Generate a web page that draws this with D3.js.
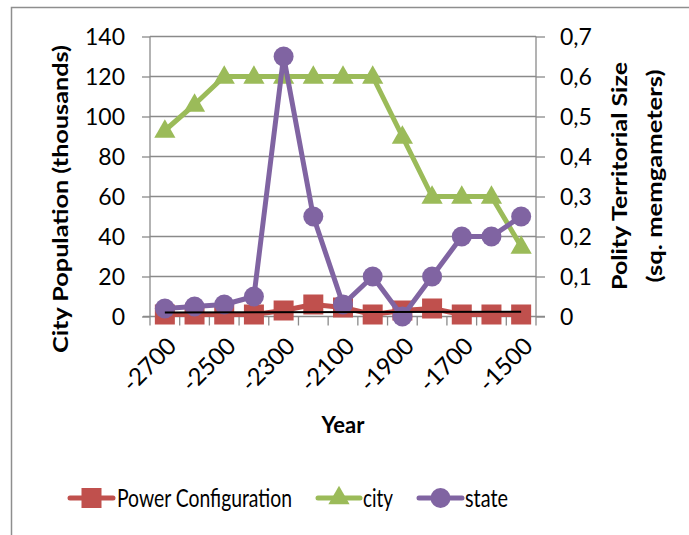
<!DOCTYPE html>
<html><head><meta charset="utf-8">
<script src="https://cdn.jsdelivr.net/npm/d3@7"></script>
<style>html,body{margin:0;padding:0;background:#fff;}svg{display:block;font-family:Lato,"Open Sans",sans-serif;}</style>
</head><body>
<script>
const years = [-2700,-2600,-2500,-2400,-2300,-2200,-2100,-2000,-1900,-1800,-1700,-1600,-1500];
const tickYears = [-2700,-2500,-2300,-2100,-1900,-1700,-1500];
const power = [1,1,1,1,3,6,4.5,1,3,4,1,1,1];
const city = [93,106,120,120,120,120,120,120,90,60,60,60,35];
const state = [0.02,0.025,0.03,0.05,0.65,0.25,0.03,0.1,0,0.1,0.2,0.2,0.25];
const leftTicks = [0,20,40,60,80,100,120,140];
const rightTicks = [0,0.1,0.2,0.3,0.4,0.5,0.6,0.7];
const seriesNames = ["Power Configuration","city","state"];
const colors = {power:"#C0504D", city:"#9BBB59", state:"#8064A2"};

const W=689,H=535;
const L=150,R=536,T=36.5,B=316.5;
const svg=d3.select("body").append("svg").attr("width",W).attr("height",H);
svg.append("rect").attr("x",11.5).attr("y",7.5).attr("width",800).attr("height",700).attr("fill","#fff").attr("stroke","#8e8e8e").attr("stroke-width",1.5);

const x=d3.scaleBand().domain(years).range([L,R]);
const xc=d=>x(d)+x.bandwidth()/2;
const yL=d3.scaleLinear().domain([0,140]).range([B,T]);
const yR=d3.scaleLinear().domain([0,0.7]).range([B,T]);
const grid="#8a8a8a";

// gridlines
svg.append("g").selectAll("line").data(leftTicks.filter(d=>d>0)).join("line")
  .attr("x1",L).attr("x2",R).attr("y1",d=>yL(d)).attr("y2",d=>yL(d)).attr("stroke",grid).attr("stroke-width",1.3);

// left axis
const gl=svg.append("g").attr("transform",`translate(${L},0)`).call(d3.axisLeft(yL).tickValues(leftTicks).tickSize(8).tickPadding(17));
gl.selectAll("path,line").attr("stroke",grid).attr("stroke-width",1.3);
gl.select(".domain").attr("d",`M0,${T}V${B}`);
gl.selectAll("text").attr("font-size",23).attr("fill","#000").attr("font-family","Lato").attr("dy","0.36em");

// right axis
const gr=svg.append("g").attr("transform",`translate(${R},0)`).call(d3.axisRight(yR).tickValues(rightTicks).tickSize(9).tickPadding(15).tickFormat(d=>d===0?"0":d3.format(".1f")(d).replace(".",",")));
gr.selectAll("path,line").attr("stroke",grid).attr("stroke-width",1.3);
gr.select(".domain").attr("d",`M0,${T}V${B}`);
gr.selectAll("text").attr("font-size",23).attr("fill","#000").attr("font-family","Lato").attr("dy","0.36em");

// x axis
const gx=svg.append("g").attr("transform",`translate(0,${B})`);
gx.append("line").attr("x1",L-7).attr("x2",R+9).attr("stroke",grid).attr("stroke-width",1.3);
const bounds=years.map(d=>x(d)).concat([R]);
gx.selectAll("line.t").data(bounds).join("line").attr("class","t").attr("x1",d=>d).attr("x2",d=>d).attr("y1",0).attr("y2",9).attr("stroke",grid).attr("stroke-width",1.3);
gx.selectAll("text").data(tickYears).join("text")
  .attr("transform",d=>`translate(${xc(d)+7},${25}) rotate(-45)`)
  .attr("text-anchor","end").attr("font-size",24).attr("font-family","Lato").attr("dy","0.36em").text(d=>d);

// axis titles
svg.append("text").attr("transform",`translate(68,199) rotate(-90)`).attr("text-anchor","middle").attr("font-weight","bold").attr("font-size",21).attr("textLength",308).attr("lengthAdjust","spacingAndGlyphs").text("City Population (thousands)");
svg.append("text").attr("transform",`translate(627,176) rotate(-90)`).attr("text-anchor","middle").attr("font-weight","bold").attr("font-size",21).attr("textLength",228).attr("lengthAdjust","spacingAndGlyphs").text("Polity Territorial Size");
svg.append("text").attr("transform",`translate(662,176) rotate(-90)`).attr("text-anchor","middle").attr("font-weight","bold").attr("font-size",21).attr("textLength",213).attr("lengthAdjust","spacingAndGlyphs").text("(sq. memgameters)");
svg.append("text").attr("x",343).attr("y",433).attr("text-anchor","middle").attr("font-weight","bold").attr("font-size",22).text("Year");

// series
const lineL=d3.line().x((d,i)=>xc(years[i])).y(d=>yL(d));
const lineR=d3.line().x((d,i)=>xc(years[i])).y(d=>yR(d));
const tri=d3.symbol().type(d3.symbolTriangle).size(195);

// power
svg.append("path").attr("d",lineL(power)).attr("fill","none").attr("stroke",colors.power).attr("stroke-width",5).attr("stroke-linejoin","round");
svg.append("g").selectAll("rect").data(power).join("rect").attr("x",(d,i)=>xc(years[i])-10).attr("y",d=>yL(d)-10).attr("width",20).attr("height",20).attr("fill",colors.power);
// city
svg.append("path").attr("d",lineL(city)).attr("fill","none").attr("stroke",colors.city).attr("stroke-width",5).attr("stroke-linejoin","round");
svg.append("g").selectAll("path").data(city).join("path").attr("d",tri).attr("transform",(d,i)=>`translate(${xc(years[i])},${yL(d)+1})`).attr("fill",colors.city);
// state
svg.append("path").attr("d",lineR(state)).attr("fill","none").attr("stroke",colors.state).attr("stroke-width",5).attr("stroke-linejoin","round");
svg.append("g").selectAll("circle").data(state).join("circle").attr("cx",(d,i)=>xc(years[i])).attr("cy",d=>yR(d)).attr("r",10).attr("fill",colors.state);

// linear trendline of power
const idx=power.map((d,i)=>i+1);
const mx=d3.mean(idx),my=d3.mean(power);
const slope=d3.sum(idx.map((v,i)=>(v-mx)*(power[i]-my)))/d3.sum(idx.map(v=>(v-mx)*(v-mx)));
const icpt=my-slope*mx;
svg.append("line").attr("x1",xc(years[0])).attr("x2",xc(years[years.length-1]))
  .attr("y1",yL(icpt+slope*1)).attr("y2",yL(icpt+slope*years.length)).attr("stroke","#000").attr("stroke-width",2);

// legend
const lg=svg.append("g");
const legY=498;
const items=[{n:seriesNames[0],c:colors.power,m:"sq",x1:70,x2:113,tx:117,tl:175},
             {n:seriesNames[1],c:colors.city,m:"tri",x1:318,x2:360,tx:363,tl:30},
             {n:seriesNames[2],c:colors.state,m:"circ",x1:419,x2:462,tx:465,tl:43}];
items.forEach(it=>{
  lg.append("line").attr("x1",it.x1).attr("x2",it.x2).attr("y1",legY).attr("y2",legY).attr("stroke",it.c).attr("stroke-width",5).attr("stroke-linecap","round");
  const mxp=(it.x1+it.x2)/2;
  if(it.m==="sq") lg.append("rect").attr("x",mxp-10).attr("y",legY-10).attr("width",20).attr("height",20).attr("fill",it.c);
  if(it.m==="tri") lg.append("path").attr("d",tri).attr("transform",`translate(${mxp},${legY})`).attr("fill",it.c);
  if(it.m==="circ") lg.append("circle").attr("cx",mxp).attr("cy",legY).attr("r",10).attr("fill",it.c);
  lg.append("text").attr("x",it.tx).attr("y",legY).attr("dy","0.36em").attr("font-size",25).attr("textLength",it.tl).attr("lengthAdjust","spacingAndGlyphs").text(it.n);
});
</script>
</body></html>
